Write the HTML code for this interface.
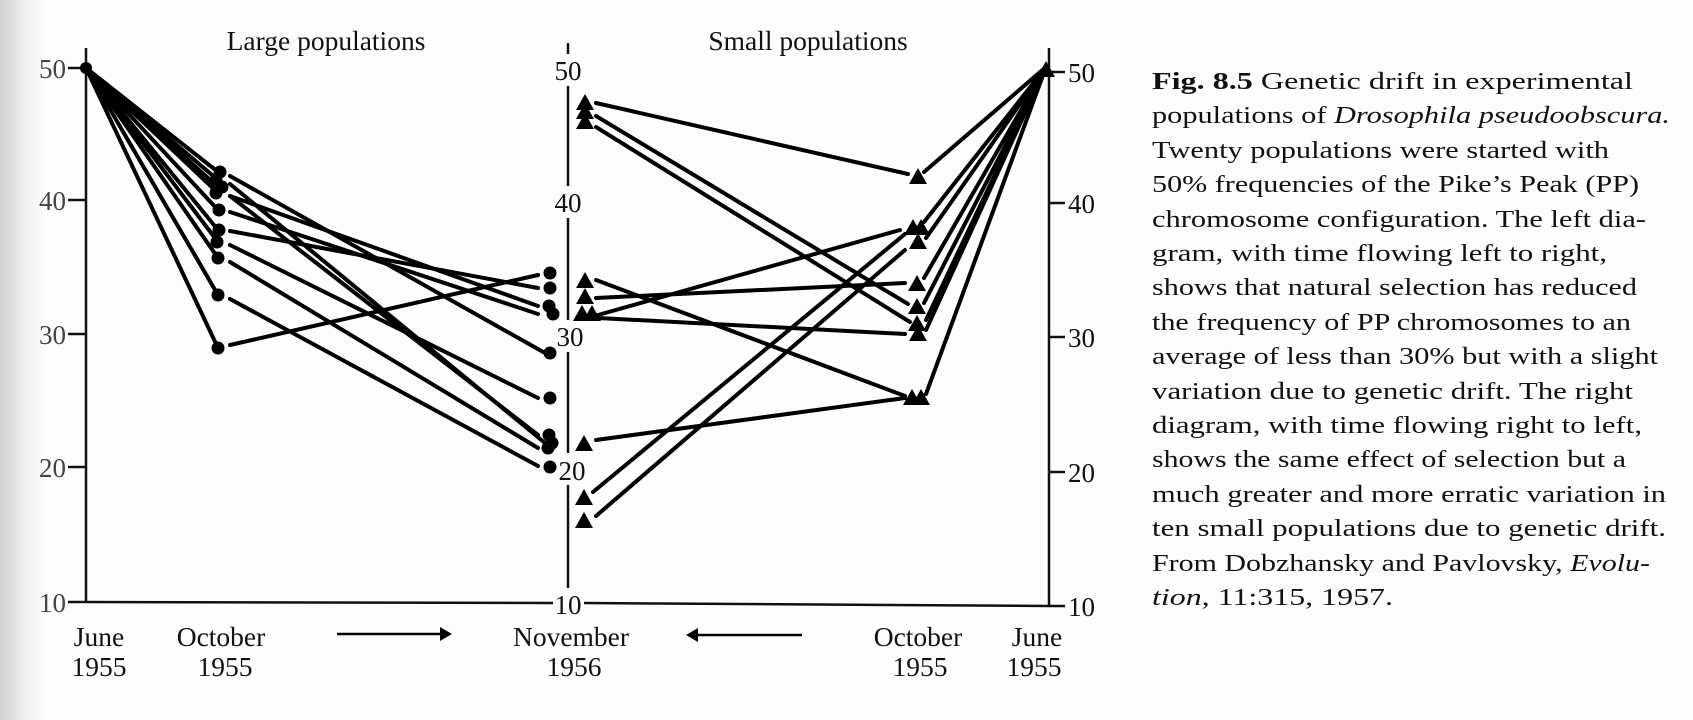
<!DOCTYPE html>
<html><head><meta charset="utf-8"><style>
html,body{margin:0;padding:0;background:#fff;}
svg{display:block;}
text,tspan{font-family:"Liberation Serif",serif;fill:#111;}
</style></head><body>
<svg width="1693" height="720" viewBox="0 0 1693 720" xmlns="http://www.w3.org/2000/svg">
<defs>
<linearGradient id="g" x1="0" x2="1" y1="0" y2="0">
<stop offset="0" stop-color="#cfcfcf"/><stop offset="0.5" stop-color="#ececec"/><stop offset="1" stop-color="#fdfdfd"/>
</linearGradient>
<path id="tri" d="M0,-9 L9,7 L-9,7 Z"/>
</defs>
<rect width="1693" height="720" fill="#fdfdfd"/>
<rect width="45" height="720" fill="url(#g)"/>

<text x="326" y="50" font-size="27.5" text-anchor="middle">Large populations</text>
<text x="808" y="50" font-size="27.5" text-anchor="middle">Small populations</text>

<g stroke="#111" stroke-width="2.5" fill="none">
<line x1="86" y1="48" x2="86" y2="603"/>
<line x1="86" y1="602" x2="553" y2="603"/>
<line x1="584" y1="603" x2="1049" y2="606"/>
<line x1="568" y1="43" x2="568" y2="54"/>
<line x1="568" y1="86" x2="568" y2="186"/>
<line x1="568" y1="218" x2="568" y2="320"/>
<line x1="568" y1="352" x2="568" y2="453"/>
<line x1="568" y1="485" x2="568" y2="588"/>
<line x1="1049" y1="48" x2="1049" y2="606"/>
<line x1="68" y1="68" x2="86" y2="68"/>
<line x1="68" y1="200" x2="86" y2="200"/>
<line x1="68" y1="334" x2="86" y2="334"/>
<line x1="68" y1="467" x2="86" y2="467"/>
<line x1="68" y1="602" x2="86" y2="602"/>
<line x1="1049" y1="72" x2="1065" y2="72"/>
<line x1="1049" y1="203" x2="1065" y2="203"/>
<line x1="1049" y1="337" x2="1065" y2="337"/>
<line x1="1049" y1="472" x2="1065" y2="472"/>
<line x1="1049" y1="606" x2="1065" y2="606"/>
</g>
<g font-size="27">
<text x="66" y="78" text-anchor="end" style="fill:#444">50</text>
<text x="66" y="210" text-anchor="end" style="fill:#444">40</text>
<text x="66" y="344" text-anchor="end" style="fill:#444">30</text>
<text x="66" y="477" text-anchor="end" style="fill:#444">20</text>
<text x="66" y="612" text-anchor="end" style="fill:#444">10</text>
<text x="568" y="80" text-anchor="middle">50</text>
<text x="568" y="212" text-anchor="middle">40</text>
<text x="570" y="346" text-anchor="middle">30</text>
<text x="572" y="480" text-anchor="middle">20</text>
<text x="568" y="614" text-anchor="middle">10</text>
<text x="1068" y="82">50</text>
<text x="1068" y="213">40</text>
<text x="1068" y="347">30</text>
<text x="1068" y="482">20</text>
<text x="1068" y="616">10</text>
</g>

<g stroke="#000" stroke-width="4" stroke-linecap="round" fill="none">
<line x1="86" y1="68" x2="218" y2="172"/>
<line x1="86" y1="68" x2="218" y2="180"/>
<line x1="86" y1="68" x2="218" y2="187"/>
<line x1="86" y1="68" x2="218" y2="193"/>
<line x1="86" y1="68" x2="218" y2="210"/>
<line x1="86" y1="68" x2="218" y2="230"/>
<line x1="86" y1="68" x2="218" y2="242"/>
<line x1="86" y1="68" x2="218" y2="258"/>
<line x1="86" y1="68" x2="218" y2="295"/>
<line x1="86" y1="68" x2="218" y2="348"/>
<line x1="230" y1="176" x2="545" y2="353"/>
<line x1="230" y1="184" x2="545" y2="443"/>
<line x1="230" y1="196" x2="538" y2="306"/>
<line x1="230" y1="196" x2="538" y2="435"/>
<line x1="230" y1="212" x2="538" y2="314"/>
<line x1="230" y1="231" x2="538" y2="288"/>
<line x1="230" y1="245" x2="538" y2="398"/>
<line x1="230" y1="262" x2="538" y2="448"/>
<line x1="230" y1="299" x2="538" y2="466"/>
<line x1="230" y1="345" x2="538" y2="275"/>
</g>
<g fill="#000">
<circle cx="86" cy="68" r="6"/>
<circle cx="220" cy="172" r="6.5"/><circle cx="216" cy="180" r="6.5"/><circle cx="222" cy="187" r="6.5"/>
<circle cx="216" cy="193" r="6.5"/><circle cx="219" cy="210" r="6.5"/><circle cx="219" cy="230" r="6.5"/>
<circle cx="217" cy="242" r="6.5"/><circle cx="218" cy="258" r="6.5"/><circle cx="218" cy="295" r="6.5"/>
<circle cx="218" cy="348" r="6.5"/>
<circle cx="550" cy="273" r="6.5"/><circle cx="550" cy="288" r="6.5"/><circle cx="549" cy="306" r="6.5"/>
<circle cx="553" cy="314" r="6.5"/><circle cx="550" cy="353" r="6.5"/><circle cx="550" cy="398" r="6.5"/>
<circle cx="549" cy="435" r="6.5"/><circle cx="552" cy="443" r="6.5"/><circle cx="548" cy="448" r="6.5"/>
<circle cx="550" cy="467" r="6.5"/>
</g>

<g stroke="#000" stroke-width="4" stroke-linecap="round" fill="none">
<line x1="596" y1="103" x2="908" y2="174"/>
<line x1="596" y1="116" x2="908" y2="304"/>
<line x1="596" y1="127" x2="910" y2="322"/>
<line x1="596" y1="280" x2="905" y2="396"/>
<line x1="596" y1="298" x2="905" y2="283"/>
<line x1="598" y1="315" x2="900" y2="230"/>
<line x1="598" y1="318" x2="905" y2="334"/>
<line x1="596" y1="440" x2="905" y2="398"/>
<line x1="593" y1="492" x2="905" y2="234"/>
<line x1="596" y1="516" x2="905" y2="250"/>
<line x1="924" y1="172" x2="1046" y2="67"/>
<line x1="924" y1="222" x2="1046" y2="67"/>
<line x1="926" y1="238" x2="1046" y2="67"/>
<line x1="924" y1="278" x2="1046" y2="67"/>
<line x1="924" y1="303" x2="1046" y2="67"/>
<line x1="926" y1="320" x2="1046" y2="67"/>
<line x1="926" y1="330" x2="1046" y2="67"/>
<line x1="926" y1="394" x2="1046" y2="67"/>
</g>
<g fill="#000">
<use href="#tri" x="1046" y="70"/>
<use href="#tri" x="585" y="103"/><use href="#tri" x="585" y="112"/><use href="#tri" x="585" y="122"/>
<use href="#tri" x="585" y="281"/><use href="#tri" x="585" y="297"/>
<use href="#tri" x="582" y="314"/><use href="#tri" x="592" y="314"/>
<use href="#tri" x="584" y="444"/><use href="#tri" x="584" y="498"/><use href="#tri" x="584" y="521"/>
<use href="#tri" x="918" y="177"/>
<use href="#tri" x="913" y="228"/><use href="#tri" x="921" y="228"/><use href="#tri" x="918" y="242"/>
<use href="#tri" x="917" y="284"/><use href="#tri" x="917" y="307"/>
<use href="#tri" x="917" y="324"/><use href="#tri" x="918" y="334"/>
<use href="#tri" x="912" y="398"/><use href="#tri" x="921" y="398"/>
</g>

<g font-size="27.5" text-anchor="middle">
<text x="99" y="646">June</text><text x="99" y="676">1955</text>
<text x="221" y="646">October</text><text x="225" y="676">1955</text>
<text x="571" y="646">November</text><text x="574" y="676">1956</text>
<text x="918" y="646">October</text><text x="920" y="676">1955</text>
<text x="1037" y="646">June</text><text x="1034" y="676">1955</text>
</g>
<g stroke="#000" stroke-width="2.5">
<line x1="337" y1="634" x2="440" y2="634"/>
<line x1="698" y1="635" x2="802" y2="635"/>
</g>
<path d="M440,627 L452,634 L440,641 Z" fill="#000"/>
<path d="M698,628 L686,635 L698,642 Z" fill="#000"/>

<g font-size="24">
<text x="1152" y="89" textLength="481" lengthAdjust="spacingAndGlyphs"><tspan font-weight="bold">Fig. 8.5</tspan>    Genetic drift in experimental</text>
<text x="1152" y="123" textLength="518" lengthAdjust="spacingAndGlyphs">populations of <tspan font-style="italic">Drosophila pseudoobscura.</tspan></text>
<text x="1152" y="158" textLength="457" lengthAdjust="spacingAndGlyphs">Twenty populations were started with</text>
<text x="1152" y="192" textLength="487" lengthAdjust="spacingAndGlyphs">50% frequencies of the Pike’s Peak (PP)</text>
<text x="1152" y="227" textLength="494" lengthAdjust="spacingAndGlyphs">chromosome configuration. The left dia-</text>
<text x="1152" y="261" textLength="455" lengthAdjust="spacingAndGlyphs">gram, with time flowing left to right,</text>
<text x="1152" y="295" textLength="485" lengthAdjust="spacingAndGlyphs">shows that natural selection has reduced</text>
<text x="1152" y="330" textLength="479" lengthAdjust="spacingAndGlyphs">the frequency of PP chromosomes to an</text>
<text x="1152" y="364" textLength="506" lengthAdjust="spacingAndGlyphs">average of less than 30% but with a slight</text>
<text x="1152" y="399" textLength="481" lengthAdjust="spacingAndGlyphs">variation due to genetic drift. The right</text>
<text x="1152" y="433" textLength="490" lengthAdjust="spacingAndGlyphs">diagram, with time flowing right to left,</text>
<text x="1152" y="467" textLength="474" lengthAdjust="spacingAndGlyphs">shows the same effect of selection but a</text>
<text x="1152" y="502" textLength="514" lengthAdjust="spacingAndGlyphs">much greater and more erratic variation in</text>
<text x="1152" y="536" textLength="514" lengthAdjust="spacingAndGlyphs">ten small populations due to genetic drift.</text>
<text x="1152" y="571" textLength="498" lengthAdjust="spacingAndGlyphs">From Dobzhansky and Pavlovsky, <tspan font-style="italic">Evolu-</tspan></text>
<text x="1152" y="605" textLength="241" lengthAdjust="spacingAndGlyphs"><tspan font-style="italic">tion,</tspan> 11:315, 1957.</text>
</g>
</svg>
</body></html>
